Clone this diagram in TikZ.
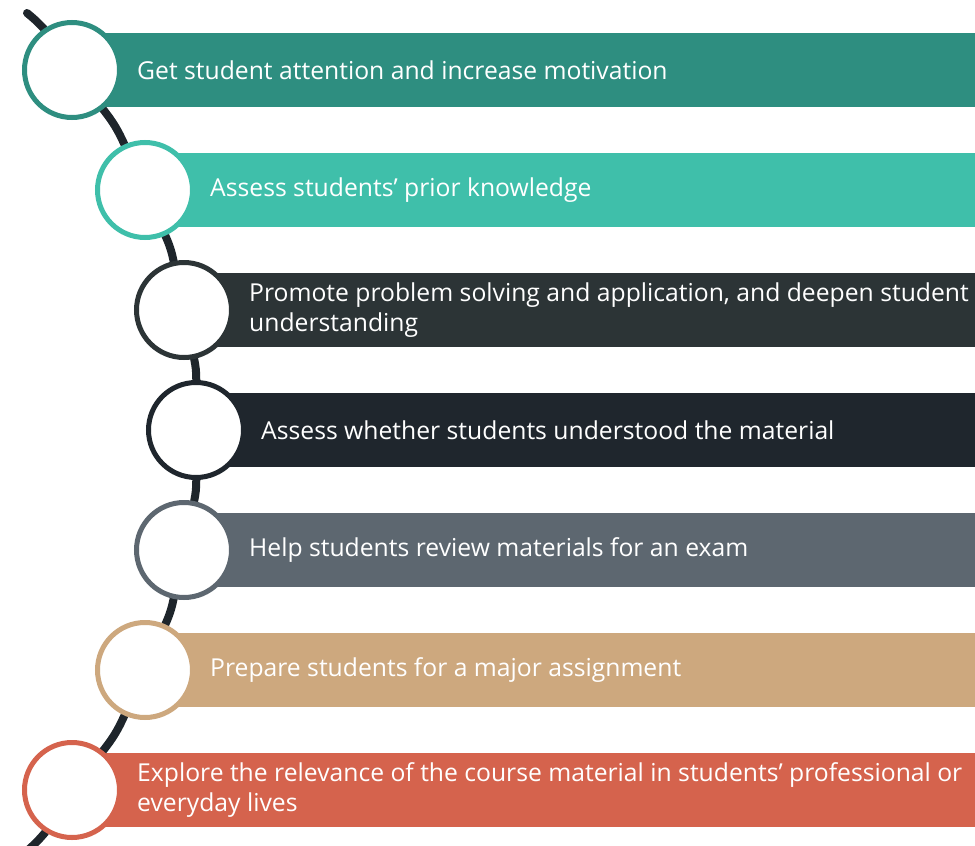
\documentclass[tikz,border=0pt]{standalone}
\usepackage{fontspec}
\setmainfont{Open Sans}
\usetikzlibrary{backgrounds,positioning}
\definecolor{bara}{HTML}{2E8E80}
\definecolor{barb}{HTML}{3FBFAA}
\definecolor{barc}{HTML}{2C3436}
\definecolor{bard}{HTML}{1F262D}
\definecolor{bare}{HTML}{5D6770}
\definecolor{barf}{HTML}{CDA87E}
\definecolor{barg}{HTML}{D5634D}
\definecolor{spinecol}{HTML}{1E252B}
\tikzset{ring/.style={circle,draw,line width=5pt,fill=white,minimum size=95pt,inner sep=0pt}}
\tikzset{steptext/.style={anchor=west,text=white,align=left,inner sep=0pt,
        font=\fontsize{24.7}{30}\selectfont}}
\tikzset{spine/.style={draw=spinecol,line width=8pt,line cap=round}}

\begin{document}
\begin{tikzpicture}[x=1pt,y=-1pt]
                \useasboundingbox (0,0) rectangle (975,846);
                \node[ring,draw=bara] (c1) at (72,70)   {};
                \node[ring,draw=barb] (c2) at (145,190) {};
                \node[ring,draw=barc] (c3) at (184,310) {};
                \node[ring,draw=bard] (c4) at (196,430) {};
                \node[ring,draw=bare] (c5) at (184,550) {};
                \node[ring,draw=barf] (c6) at (145,670) {};
                \node[ring,draw=barg] (c7) at (72,790)  {};
                \coordinate (top) at (27,13);
                \coordinate (bottom) at (28,850);
                \node[steptext] (t1) [right=65pt of c1.center] {Get student attention and increase motivation};
                \node[steptext] (t2) [right=65pt of c2.center] {Assess students’ prior knowledge};
                \node[steptext] (t3) [right=65pt of c3.center] {Promote problem solving and application, and deepen student\\understanding};
                \node[steptext] (t4) [right=65pt of c4.center] {Assess whether students understood the material};
                \node[steptext] (t5) [right=65pt of c5.center] {Help students review materials for an exam};
                \node[steptext] (t6) [right=65pt of c6.center] {Prepare students for a major assignment};
                \node[steptext] (t7) [right=65pt of c7.center] {Explore the relevance of the course material in students’ professional or\\everyday lives};
                \begin{scope}[on background layer]
                \fill[bara] (72,33)  rectangle (975,107);
                \fill[barb] (145,153) rectangle (975,227);
                \fill[barc] (184,273) rectangle (975,347);
                \fill[bard] (196,393) rectangle (975,467);
                \fill[bare] (184,513) rectangle (975,587);
                \fill[barf] (145,633) rectangle (975,707);
                \fill[barg] (72,753) rectangle (975,827);
                \path[spine]
                    (top) to [bend left=4] (c1)
                    (c1) to [bend left=7] (c2)
                    (c2) to [bend left=6] (c3)
                    (c3) to [bend left=6] (c4)
                    (c4) to [bend left=6] (c5)
                    (c5) to [bend left=6] (c6)
                    (c6) to [bend left=7] (c7)
                    (c7) to [bend left=4] (bottom);
                \end{scope}
            \end{tikzpicture}
\end{document}
